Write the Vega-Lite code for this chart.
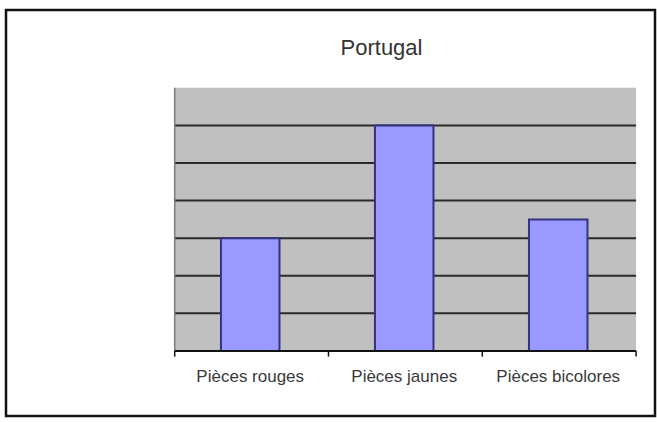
{
  "$schema": "https://vega.github.io/schema/vega-lite/v6.json",
  "width": 649,
  "height": 406,
  "autosize": "none",
  "padding": {"left": 6, "top": 10, "right": 2, "bottom": 6},
  "background": "white",
  "config": {
    "view": {"stroke": "#111111", "strokeWidth": 2.5, "fill": "white"},
    "font": "Liberation Sans"
  },
  "title": {
    "text": "Portugal",
    "fontSize": 22,
    "fontWeight": "normal",
    "color": "#333333",
    "font": "Liberation Sans",
    "anchor": "middle",
    "frame": "group",
    "baseline": "alphabetic",
    "offset": 0,
    "dx": 51,
    "dy": 67
  },
  "datasets": {
    "bars": [
      {"categorie": "Pièces rouges", "valeur": 3},
      {"categorie": "Pièces jaunes", "valeur": 6},
      {"categorie": "Pièces bicolores", "valeur": 3.5}
    ],
    "grille": [
      {"g": 1}, {"g": 2}, {"g": 3}, {"g": 4}, {"g": 5}, {"g": 6}
    ],
    "separations": [
      {"s": 0}, {"s": 1}, {"s": 2}, {"s": 3}
    ],
    "cadre": [
      {"x0": 0, "x1": 3, "y0": 0, "y1": 7}
    ]
  },
  "layer": [
    {
      "data": {"name": "cadre"},
      "mark": {"type": "rect", "fill": "#C0C0C0"},
      "encoding": {
        "x": {"field": "x0", "type": "quantitative", "scale": {"domain": [-1.097, 3.123], "nice": false, "zero": false}, "axis": null},
        "x2": {"field": "x1"},
        "y": {"field": "y0", "type": "quantitative", "scale": {"domain": [-1.73, 9.07], "nice": false, "zero": false}, "axis": null},
        "y2": {"field": "y1"}
      }
    },
    {
      "data": {"name": "grille"},
      "mark": {"type": "rule", "stroke": "#2a2a2a", "strokeWidth": 2},
      "encoding": {
        "x": {"datum": 0, "type": "quantitative", "scale": {"domain": [-1.097, 3.123], "nice": false, "zero": false}, "axis": null},
        "x2": {"datum": 3},
        "y": {"field": "g", "type": "quantitative"}
      }
    },
    {
      "data": {"name": "cadre"},
      "mark": {"type": "rule", "stroke": "#7a7a7a", "strokeWidth": 1.5},
      "encoding": {
        "x": {"field": "x0", "type": "quantitative", "scale": {"domain": [-1.097, 3.123], "nice": false, "zero": false}, "axis": null},
        "y": {"field": "y0", "type": "quantitative"},
        "y2": {"field": "y1"}
      }
    },
    {
      "data": {"name": "bars"},
      "mark": {"type": "bar", "fill": "#9999FF", "stroke": "#333380", "strokeWidth": 2},
      "encoding": {
        "x": {
          "field": "categorie",
          "type": "nominal",
          "sort": null,
          "scale": {"paddingInner": 0.62, "paddingOuter": 0.917, "align": 0.761},
          "axis": {
            "title": null,
            "orient": "bottom",
            "offset": -65,
            "domain": false,
            "grid": false,
            "ticks": false,
            "tickSize": 0,
            "labelAngle": 0,
            "labelFontSize": 17,
            "labelColor": "#3a3a3a",
            "labelFont": "Liberation Sans",
            "labelPadding": 17
          }
        },
        "y": {"field": "valeur", "type": "quantitative"}
      }
    },
    {
      "data": {"name": "separations"},
      "mark": {"type": "rule", "stroke": "#111111", "strokeWidth": 1.5},
      "encoding": {
        "x": {"field": "s", "type": "quantitative", "scale": {"domain": [-1.097, 3.123], "nice": false, "zero": false}, "axis": null},
        "y": {"datum": 0, "type": "quantitative"},
        "y2": {"datum": -0.15}
      }
    },
    {
      "data": {"name": "cadre"},
      "mark": {"type": "rule", "stroke": "#111111", "strokeWidth": 2},
      "encoding": {
        "x": {"field": "x0", "type": "quantitative", "scale": {"domain": [-1.097, 3.123], "nice": false, "zero": false}, "axis": null},
        "x2": {"field": "x1"},
        "y": {"field": "y0", "type": "quantitative"}
      }
    }
  ],
  "resolve": {"scale": {"x": "independent"}, "axis": {"x": "independent"}}
}
